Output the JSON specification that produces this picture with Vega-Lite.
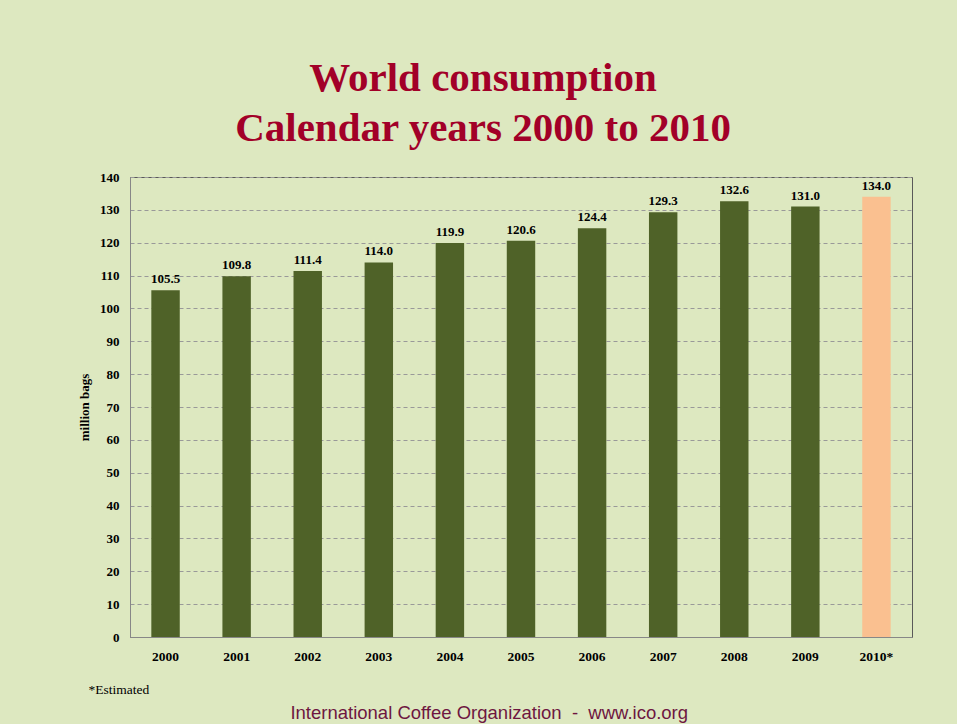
{
  "$schema": "https://vega.github.io/schema/vega-lite/v6.json",
  "background": "#dde8c0",
  "padding": {"left": 78, "top": 57, "right": 45, "bottom": 2},
  "title": {
    "text": "International Coffee Organization \u00a0-\u00a0 www.ico.org",
    "orient": "bottom",
    "anchor": "middle",
    "font": "Liberation Sans",
    "fontSize": 18.5,
    "fontWeight": "normal",
    "color": "#6e1640",
    "offset": 8,
    "dx": -6
  },
  "vconcat": [
    {
      "width": 782,
      "height": 460,
      "title": {
        "text": ["World consumption", "Calendar years 2000 to 2010"],
        "font": "Liberation Serif",
        "fontSize": 41,
        "fontWeight": "bold",
        "color": "#a20028",
        "lineHeight": 50,
        "offset": 21,
        "dx": -38
      },
      "data": {
        "values": [
          {"year": "2000", "value": 105.5, "status": "Actual"},
          {"year": "2001", "value": 109.8, "status": "Actual"},
          {"year": "2002", "value": 111.4, "status": "Actual"},
          {"year": "2003", "value": 114.0, "status": "Actual"},
          {"year": "2004", "value": 119.9, "status": "Actual"},
          {"year": "2005", "value": 120.6, "status": "Actual"},
          {"year": "2006", "value": 124.4, "status": "Actual"},
          {"year": "2007", "value": 129.3, "status": "Actual"},
          {"year": "2008", "value": 132.6, "status": "Actual"},
          {"year": "2009", "value": 131.0, "status": "Actual"},
          {"year": "2010*", "value": 134.0, "status": "Estimated"}
        ]
      },
      "encoding": {
        "x": {
          "field": "year",
          "type": "nominal",
          "sort": null,
          "scale": {"paddingInner": 0.6, "paddingOuter": 0.3},
          "axis": {
            "title": "*Estimated",
            "titleFont": "Liberation Serif",
            "titleFontSize": 13.5,
            "titleFontWeight": "normal",
            "titleColor": "#000000",
            "titleAnchor": "start",
            "titleAlign": "left",
            "titleBaseline": "alphabetic",
            "titleX": -42,
            "titleY": 56,
            "labelFont": "Liberation Serif",
            "labelFontSize": 13.5,
            "labelFontWeight": "bold",
            "labelColor": "#000000",
            "labelAngle": 0,
            "labelBaseline": "alphabetic",
            "labelPadding": 23,
            "ticks": false,
            "domainColor": "#878787",
            "grid": false
          }
        },
        "y": {
          "field": "value",
          "type": "quantitative",
          "scale": {"domain": [0, 140], "nice": false},
          "axis": {
            "values": [0, 10, 20, 30, 40, 50, 60, 70, 80, 90, 100, 110, 120, 130, 140],
            "title": "million bags",
            "titleFont": "Liberation Serif",
            "titleFontSize": 13,
            "titleFontWeight": "bold",
            "titleColor": "#000000",
            "titlePadding": 8,
            "labelFont": "Liberation Serif",
            "labelFontSize": 13,
            "labelFontWeight": "bold",
            "labelColor": "#000000",
            "labelPadding": 11,
            "ticks": false,
            "domainColor": "#878787",
            "grid": true,
            "gridColor": "#999999",
            "gridDash": [4, 3],
            "gridWidth": 1
          }
        }
      },
      "layer": [
        {
          "mark": {"type": "bar"},
          "encoding": {
            "color": {
              "field": "status",
              "type": "nominal",
              "scale": {"domain": ["Actual", "Estimated"], "range": ["#4f6228", "#fac090"]},
              "legend": null
            }
          }
        },
        {
          "mark": {
            "type": "text",
            "baseline": "alphabetic",
            "dy": -7,
            "font": "Liberation Serif",
            "fontSize": 13,
            "fontWeight": "bold",
            "color": "#000000"
          },
          "encoding": {
            "text": {"field": "value", "type": "quantitative", "format": ".1f"}
          }
        }
      ]
    }
  ],
  "config": {
    "view": {"stroke": "#595959", "strokeWidth": 1}
  }
}
